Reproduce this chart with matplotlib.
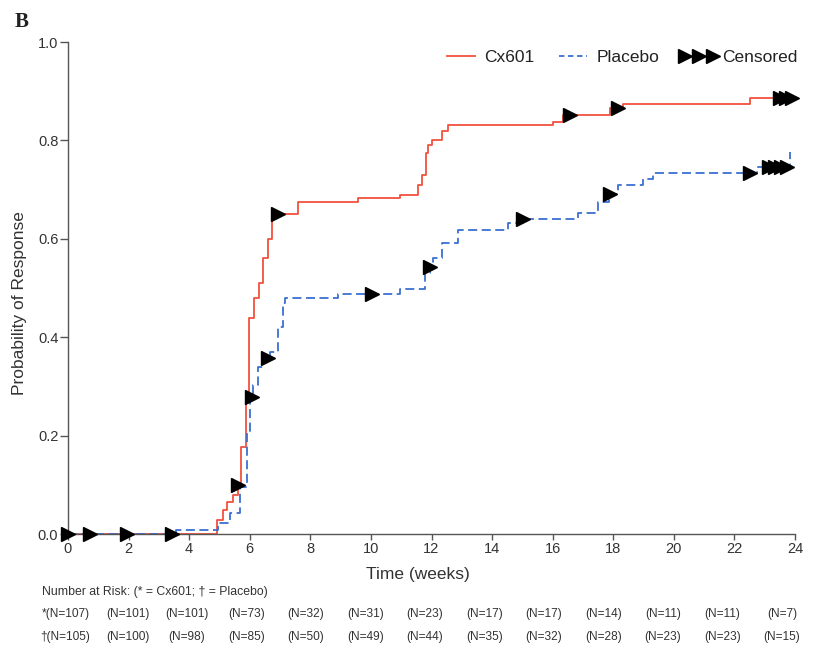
import matplotlib
matplotlib.use("Agg")
import matplotlib.pyplot as plt
from matplotlib.lines import Line2D
from matplotlib.transforms import blended_transform_factory
import numpy as np

# ---- data ----
cx_times = [0, 4.92, 5.11, 5.24, 5.45, 5.60, 5.72, 5.86, 5.97, 6.14, 6.31, 6.44, 6.60, 6.72,
            7.60, 9.57, 10.96, 11.55, 11.57, 11.68, 11.82, 11.89, 12.01, 12.34, 12.56,
            16.01, 16.34, 17.89, 18.32, 22.52, 23.95]
cx_probs = [0, 0.028, 0.049, 0.066, 0.079, 0.10, 0.177, 0.279, 0.44, 0.48, 0.51, 0.56, 0.60, 0.65,
            0.675, 0.683, 0.689, 0.70, 0.709, 0.73, 0.774, 0.79, 0.80, 0.82, 0.831,
            0.838, 0.851, 0.865, 0.874, 0.886, 0.886]
cx_censor = [0, 0.73, 1.94, 3.42, 5.61, 6.93, 16.57, 18.15, 23.5, 23.7, 23.9]

pl_times = [0, 3.58, 4.95, 5.35, 5.68, 5.90, 6.01, 6.12, 6.28, 6.45, 6.67, 6.94, 7.11, 7.16,
            8.92, 10.96, 11.78, 11.94, 12.04, 12.34, 12.87, 14.54, 14.95, 16.83, 17.5, 17.85,
            18.17, 18.99, 19.32, 22.73, 23.83, 23.85]
pl_probs = [0, 0.008, 0.022, 0.043, 0.096, 0.21, 0.279, 0.303, 0.34, 0.357, 0.37, 0.421, 0.469, 0.479,
            0.488, 0.497, 0.53, 0.542, 0.56, 0.591, 0.618, 0.632, 0.640, 0.652, 0.675, 0.692,
            0.709, 0.721, 0.734, 0.745, 0.777, 0.777]
pl_censor = [6.06, 6.61, 10.02, 11.95, 15.03, 17.89, 22.5, 23.15, 23.35, 23.55, 23.75]

risk_cx = ["*(N=107)", "(N=101)", "(N=101)", "(N=73)", "(N=32)", "(N=31)", "(N=23)",
           "(N=17)", "(N=17)", "(N=14)", "(N=11)", "(N=11)", "(N=7)"]
risk_pl = ["\u2020(N=105)", "(N=100)", "(N=98)", "(N=85)", "(N=50)", "(N=49)", "(N=44)",
           "(N=35)", "(N=32)", "(N=28)", "(N=23)", "(N=23)", "(N=15)"]
x_ticks = list(range(0, 25, 2))
y_ticks = [0.0, 0.2, 0.4, 0.6, 0.8, 1.0]


def step_value(times, probs, t):
    idx = np.searchsorted(np.asarray(times), t, side="right") - 1
    return np.asarray(probs)[idx]


RED = "#f2503f"
BLUE = "#3a6fd0"
GREY = "#333333"
SANS = ["Liberation Sans", "DejaVu Sans"]

plt.rcParams["font.family"] = SANS

fig = plt.figure(figsize=(8.17, 6.50), dpi=100)
ax = fig.add_axes([68 / 817, 1 - 534 / 650, (795 - 68) / 817, (534 - 42) / 650])

ax.step(cx_times, cx_probs, where="post", color=RED, lw=1.3, label="Cx601")
ax.step(pl_times, pl_probs, where="post", color=BLUE, lw=1.3, ls=(0, (5, 2.5)), label="Placebo")

ax.plot(cx_censor, step_value(cx_times, cx_probs, cx_censor), ls="none", marker=">",
        color="black", ms=10, clip_on=False, zorder=5)
ax.plot(pl_censor, step_value(pl_times, pl_probs, pl_censor), ls="none", marker=">",
        color="black", ms=10, clip_on=False, zorder=5)

ax.set_xlim(0, 24)
ax.set_ylim(0, 1.0)
ax.set_xticks(x_ticks)
ax.set_yticks(y_ticks)
ax.set_yticklabels([f"{v:.1f}" for v in y_ticks])
for s in ["top", "right"]:
    ax.spines[s].set_visible(False)
for s in ["left", "bottom"]:
    ax.spines[s].set_color("#555555")
    ax.spines[s].set_linewidth(1.0)
ax.tick_params(axis="y", direction="out", length=6, width=1, color="#555555",
               labelsize=10.5, labelcolor=GREY, pad=1)
ax.tick_params(axis="x", direction="out", length=4, width=1, color="#555555",
               labelsize=10.5, labelcolor=GREY, pad=2)

ax.set_ylabel("Probability of Response", fontsize=12.5, color=GREY)
ax.yaxis.set_label_coords(-0.056, 0.47)

handles = [Line2D([], [], color=RED, lw=1.3),
           Line2D([], [], color=BLUE, lw=1.3, ls=(0, (3, 2))),
           Line2D([], [], color="black", ls="none", marker=">", ms=10)]
leg = ax.legend(handles, ["Cx601", "Placebo", "Censored"], loc="upper right",
                bbox_to_anchor=(1.025, 1.015), ncol=3, frameon=False, numpoints=3,
                handlelength=2.2, columnspacing=1.15, handletextpad=0.25,
                prop={"size": 12.5})
for t in leg.get_texts():
    t.set_color("#222222")

fig.text(15 / 817, 1 - 22 / 650, "B", family=["Liberation Serif", "DejaVu Serif"],
         weight="bold", fontsize=15, va="center", ha="left", color="#222222")

fig.text(418 / 817, 1 - 575 / 650, "Time (weeks)", ha="center", va="center",
         fontsize=12.5, color=GREY)
fig.text(42 / 817, 1 - 592 / 650, "Number at Risk: (* = Cx601; \u2020 = Placebo)",
         ha="left", va="center", fontsize=8.8, color=GREY)

trans = blended_transform_factory(ax.transAxes, fig.transFigure)
for k, (a, b) in enumerate(zip(risk_cx, risk_pl)):
    xf = k * 59.5 / 727
    if k == 0:
        xf -= 2.5 / 727
    fig.text(xf, 1 - 614 / 650, a, transform=trans, ha="center", va="center",
             fontsize=8.6, color=GREY)
    fig.text(xf, 1 - 637 / 650, b, transform=trans, ha="center", va="center",
             fontsize=8.6, color=GREY)

fig.savefig("out.png", dpi=100, facecolor="white")
